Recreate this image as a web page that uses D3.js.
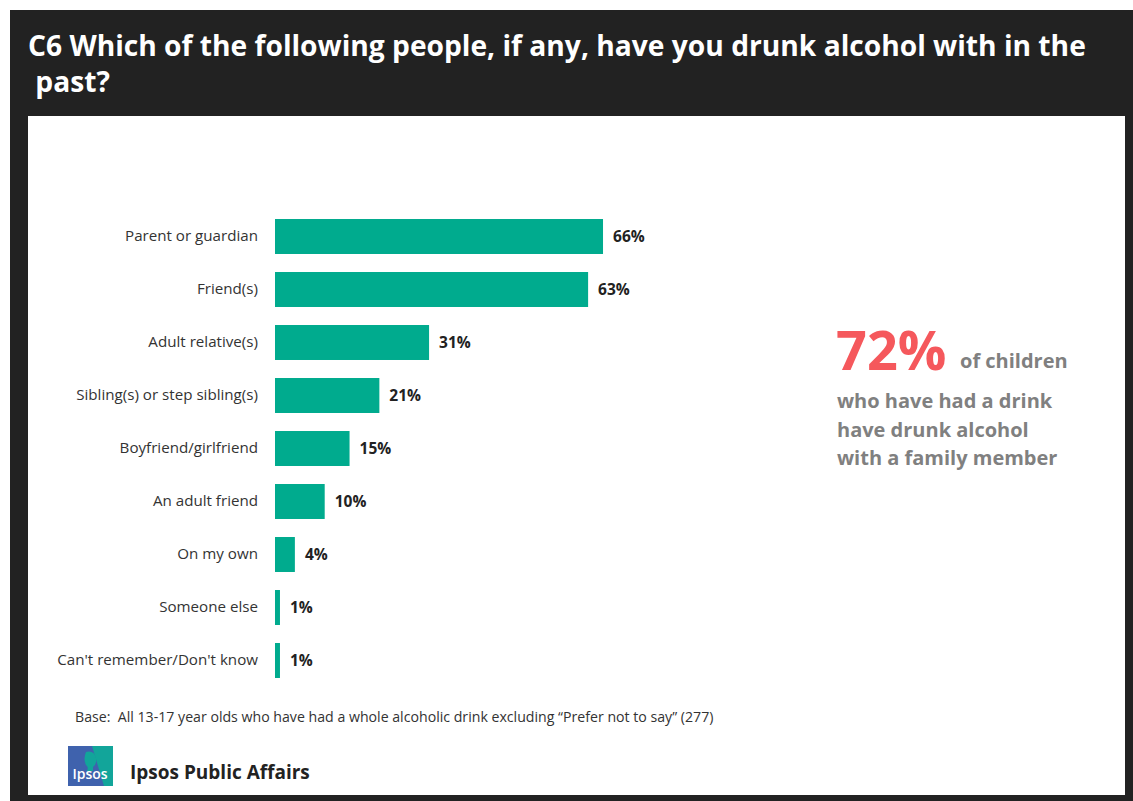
<!DOCTYPE html>
<html><head><meta charset="utf-8">
<script src="https://cdn.jsdelivr.net/npm/d3@7"></script>
<style>html,body{margin:0;padding:0;background:#fff;}svg{display:block;}</style>
</head><body>
<script>
const categories = ["Parent or guardian","Friend(s)","Adult relative(s)","Sibling(s) or step sibling(s)","Boyfriend/girlfriend","An adult friend","On my own","Someone else","Can't remember/Don't know"];
const values = [66,63,31,21,15,10,4,1,1];
const titleLines = ["C6 Which of the following people, if any, have you drunk alcohol with in the", " past?"];
const calloutBig = "72%";
const calloutLines = ["of children","who have had a drink","have drunk alcohol","with a family member"];
const baseNote = "Base:  All 13-17 year olds who have had a whole alcoholic drink excluding \u201cPrefer not to say\u201d (277)";
const brand = "Ipsos Public Affairs";

const W = 1133, H = 801;
const font = "'Open Sans', 'Noto Sans', sans-serif";
const svg = d3.select("body").append("svg").attr("width", W).attr("height", H);

svg.append("rect").attr("x",10).attr("y",10).attr("width",W-10).attr("height",H-10).attr("fill","#222222");
svg.append("rect").attr("x",28).attr("y",116).attr("width",1097).attr("height",679).attr("fill","#ffffff");

function fit(sel, target){
  const n = sel.node(); const l = n.getComputedTextLength();
  const fs = parseFloat(sel.attr("font-size"));
  sel.attr("font-size", (fs*target/l).toFixed(2));
}

const t1 = svg.append("text").attr("x",28).attr("y",56).attr("font-family",font).attr("font-weight",700)
  .attr("font-size",27).attr("fill","#fff").style("white-space","pre").text(titleLines[0]);
fit(t1, 1058);
svg.append("text").attr("x",28).attr("y",92).attr("font-family",font).attr("font-weight",700)
  .attr("font-size",t1.attr("font-size")).attr("fill","#fff").style("white-space","pre").text(titleLines[1]);

const x0 = 275;
const x = d3.scaleLinear().domain([0,100]).range([x0, x0+497]);
const y = d3.scaleBand().domain(categories).range([210, 687]).paddingInner(0.34).paddingOuter(0.17);

const g = svg.append("g");
g.selectAll("rect.bar").data(values).join("rect").attr("class","bar")
  .attr("x", x(0)).attr("y",(d,i)=>y(categories[i])).attr("width",d=>x(d)-x(0)).attr("height",y.bandwidth())
  .attr("fill","#00ab8e");

const yAxis = d3.axisLeft(y).tickSize(0).tickPadding(17);
const ax = svg.append("g").attr("transform",`translate(${x0},0)`).call(yAxis);
ax.select(".domain").remove();
ax.selectAll("text").attr("font-family",font).attr("font-size",15).attr("fill","#333");
const firstLab = ax.selectAll("text").filter(d=>d===categories[0]);
const l0 = firstLab.node().getComputedTextLength();
ax.selectAll("text").attr("font-size",(15*133/l0).toFixed(2));

g.selectAll("text.val").data(values).join("text").attr("class","val")
  .attr("x",d=>x(d)+10).attr("y",(d,i)=>y(categories[i])+y.bandwidth()/2).attr("dy","0.38em")
  .attr("font-family",font).attr("font-weight",700).attr("font-size",15.5).attr("fill","#222")
  .text(d=>d+"%");

// callout
svg.append("text").attr("x",836).attr("y",370).attr("font-family",font).attr("font-weight",700)
  .attr("font-size",54).attr("fill","#f5585c").text(calloutBig);
svg.append("text").attr("x",960).attr("y",368).attr("font-family",font).attr("font-weight",700)
  .attr("font-size",20).attr("fill","#808080").text(calloutLines[0]);
[1,2,3].forEach((k,i)=>{
  svg.append("text").attr("x",837).attr("y",408+i*28.5).attr("font-family",font).attr("font-weight",700)
    .attr("font-size",20).attr("fill","#808080").text(calloutLines[k]);
});

const bn = svg.append("text").attr("x",75).attr("y",722).attr("font-family",font).attr("font-size",13)
  .attr("fill","#333").style("white-space","pre").text(baseNote);
fit(bn, 639);

// logo
const lg = svg.append("g").attr("transform","translate(68,746)");
lg.append("rect").attr("width",45).attr("height",40).attr("fill","#3f62ad");
lg.append("path").attr("d","M24,0 L45,0 L45,40 L36,40 Q30,20 24,0 Z").attr("fill","#12a59a");
lg.append("path").attr("d","M18,6 q8,-2 10,6 q1,6 -3,9 l0,4 l-6,0 q2,-4 -1,-6 q-3,-6 0,-13 Z").attr("fill","#12a59a");
lg.append("text").attr("x",22).attr("y",33).attr("text-anchor","middle").attr("font-family",font)
  .attr("font-weight",600).attr("font-size",14).attr("fill","#fff").text("Ipsos");
svg.append("text").attr("x",130).attr("y",779).attr("font-family",font).attr("font-weight",700)
  .attr("font-size",19).attr("fill","#222").text(brand);
</script>
</body></html>
